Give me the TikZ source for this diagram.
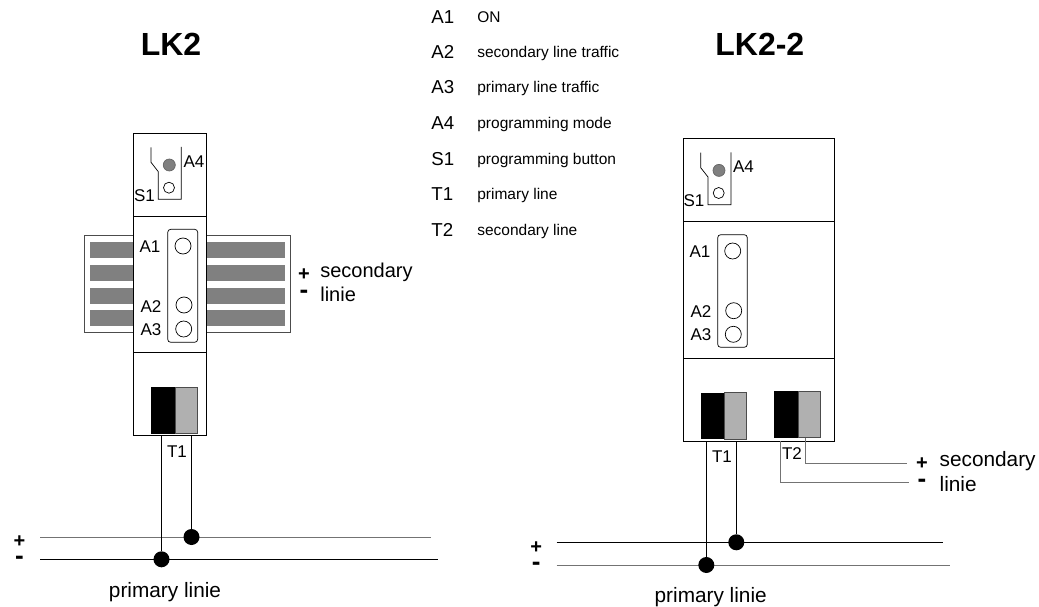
\documentclass[tikz,border=0pt]{standalone}
\usepackage{fontspec}
\setmainfont{Liberation Sans}
\definecolor{bargray}{gray}{.5}
\definecolor{termgray}{gray}{.69}
\tikzset{
   lbl/.style={inner sep=0pt,font=\fontsize{17}{17}\selectfont},
   leg/.style={inner sep=0pt,anchor=west,font=\fontsize{18.7}{18.7}\selectfont},
   big/.style={inner sep=0pt,font=\fontsize{20}{20}\selectfont},
   prim/.style={inner sep=0pt,font=\fontsize{20.8}{20.8}\selectfont},
   small/.style={inner sep=0pt,anchor=west,font=\fontsize{15.5}{15.5}\selectfont},
   title/.style={inner sep=0pt,font=\bfseries\fontsize{32}{32}\selectfont},
   sign/.style={inner sep=0pt,font=\bfseries\fontsize{20}{20}\selectfont},
   signm/.style={inner sep=0pt,font=\bfseries\fontsize{26}{26}\selectfont},
   led/.style={circle,draw,fill=white,inner sep=0pt,minimum size=16pt},
   ledsmall/.style={circle,draw,fill=white,inner sep=0pt,minimum size=11pt},
   ledprog/.style={circle,draw=black!60,fill=black!50,inner sep=0pt,minimum size=12pt},
   joint/.style={circle,fill=black,inner sep=0pt,minimum size=16pt},
   graywire/.style={line width=1pt,draw=black!55},
}
\begin{document}
\begin{tikzpicture}[x=1pt,y=-1pt,line width=.7pt]
   \useasboundingbox (0,0) rectangle (1039,607);
   % LK2
   \node[title] (titleA) at (171,44.5) {LK2};
   \draw[fill=white,draw=black!70] (84.7,235) rectangle (290.7,332.7);
   \fill[bargray] (90,242) rectangle (285,258);
   \fill[bargray] (90,265) rectangle (285,281);
   \fill[bargray] (90,288) rectangle (285,304);
   \fill[bargray] (90,310) rectangle (285,326);
   \draw[fill=white] (133.5,133) rectangle (206.7,435);
   \draw (133.5,216) -- (206.7,216);
   \draw (133.5,352) -- (206.7,352);
   \draw (151,147.3) -- (151,162.3) -- (158.3,171.7) -- (158.3,199.3) -- (181.3,199.3) -- (181.3,147);
   \node[ledprog] (progA) at (169.3,165) {};
   \node[ledsmall] (butA) at (169,187.7) {};
   \node[lbl] (lblAfourA) at (194,162) {A4};
   \node[lbl] (lblSoneA) at (144.5,196) {S1};
   \draw[rounded corners=3pt] (167.7,229.3) rectangle (197.7,342.3);
   \node[led] (ledAoneA) at (183,246) {};
   \node[led] (ledAtwoA) at (184,305) {};
   \node[led] (ledAthreeA) at (183.7,329) {};
   \node[lbl] (lblAoneA) at (150,247) {A1};
   \node[lbl] (lblAtwoA) at (151,307) {A2};
   \node[lbl] (lblAthreeA) at (151,330) {A3};
   \fill (151,387) rectangle (175,433.7);
   \draw[fill=termgray,draw=black!70] (175,387) rectangle (197.3,433.7);
   \node[sign] (plusB) at (304,275) {+};
   \node[signm] (minusB) at (304,294) {-};
   \node[big,anchor=west] (secA) at (320,272) {secondary};
   \node[big,anchor=west] (linA) at (320,294) {linie};
   % primary line of LK2
   \coordinate (busAplusL) at (40,537);
   \coordinate (busAplusR) at (431,537);
   \coordinate (busAminL) at (40,559.3);
   \coordinate (busAminR) at (438,559.3);
   \coordinate (wireAa) at (161.5,435);
   \coordinate (wireAb) at (191.5,435);
   \draw[graywire] (busAplusL) -- (busAplusR);
   \draw (busAminL) -- (busAminR);
   \node[joint] (jointAb) at (191.5,537) {};
   \node[joint] (jointAa) at (161.5,559.3) {};
   \draw (wireAa) -- (jointAa);
   \draw (wireAb) -- (jointAb);
   \node[lbl] (lblToneA) at (177,452) {T1};
   \node[sign] (plusA) at (19.5,541.5) {+};
   \node[signm] (minusA) at (19.5,560.7) {-};
   \node[prim] (primA) at (165,592.5) {primary linie};
   % legend
   \node[leg] (legAone) at (431,17) {A1};
   \node[leg] (legAtwo) at (431,52) {A2};
   \node[leg] (legAthree) at (431,87) {A3};
   \node[leg] (legAfour) at (431,123) {A4};
   \node[leg] (legSone) at (431,159) {S1};
   \node[leg] (legTone) at (431,194) {T1};
   \node[leg] (legTtwo) at (431,230) {T2};
   \node[small] (txtAone) at (477,17) {ON};
   \node[small] (txtAtwo) at (477,53) {secondary line traffic};
   \node[small] (txtAthree) at (477,88) {primary line traffic};
   \node[small] (txtAfour) at (477,124) {programming mode};
   \node[small] (txtSone) at (477,160) {programming button};
   \node[small] (txtTone) at (477,195) {primary line};
   \node[small] (txtTtwo) at (477,231) {secondary line};
   % LK2-2
   \node[title,anchor=west] (titleB) at (715,44.5) {LK2-2};
   \draw[fill=white] (683,138.3) rectangle (834.3,441);
   \draw (683,221.3) -- (834.3,221.3);
   \draw (683,358) -- (834.3,358);
   \draw (700.7,152.7) -- (700.7,167.7) -- (708,177) -- (708,204.7) -- (731,204.7) -- (731,152.4);
   \node[ledprog] (progB) at (719,170.4) {};
   \node[ledsmall] (butB) at (718.7,193) {};
   \node[lbl] (lblAfourB) at (743.5,167) {A4};
   \node[lbl] (lblSoneB) at (694,201) {S1};
   \draw[rounded corners=3pt] (717.7,234.7) rectangle (747.3,347.3);
   \node[led] (ledAoneB) at (732.7,251) {};
   \node[led] (ledAtwoB) at (733.7,310.7) {};
   \node[led] (ledAthreeB) at (733.3,334.3) {};
   \node[lbl] (lblAoneB) at (700,252) {A1};
   \node[lbl] (lblAtwoB) at (701,312) {A2};
   \node[lbl] (lblAthreeB) at (701,335) {A3};
   \fill (700.7,392.7) rectangle (724.7,439);
   \draw[fill=termgray,draw=black!70] (724.7,392.7) rectangle (746.7,439);
   \fill (774.3,391.3) rectangle (798,437.7);
   \draw[fill=termgray,draw=black!70] (798,391.3) rectangle (820.3,437.7);
   % primary line of LK2-2
   \coordinate (busBplusL) at (556.7,542.3);
   \coordinate (busBplusR) at (942.7,542.3);
   \coordinate (busBminL) at (556.7,565);
   \coordinate (busBminR) at (949.7,565);
   \coordinate (wireBa) at (706.3,441);
   \coordinate (wireBb) at (736.3,441);
   \draw (busBplusL) -- (busBplusR);
   \draw[graywire] (busBminL) -- (busBminR);
   \node[joint] (jointBb) at (736.3,542.3) {};
   \node[joint] (jointBa) at (706.3,565) {};
   \draw (wireBa) -- (jointBa);
   \draw (wireBb) -- (jointBb);
   \node[lbl] (lblToneB) at (722,457) {T1};
   \node[sign] (plusC) at (536.3,547.3) {+};
   \node[signm] (minusC) at (536.3,566.7) {-};
   \node[prim] (primB) at (710.7,597.5) {primary linie};
   % secondary line of LK2-2
   \coordinate (wireBc) at (780,441);
   \coordinate (wireBd) at (805,437.7);
   \coordinate (endBc) at (909,482.7);
   \coordinate (endBd) at (907.3,463);
   \draw[graywire] (wireBc) |- (endBc);
   \draw[graywire] (wireBd) |- (endBd);
   \node[lbl] (lblTtwoB) at (792,454) {T2};
   \node[sign] (plusD) at (922,464) {+};
   \node[signm] (minusD) at (922,483.3) {-};
   \node[prim,anchor=west] (secB) at (939.3,461) {secondary};
   \node[prim,anchor=west] (linB) at (939.3,484) {linie};
\end{tikzpicture}
\end{document}
